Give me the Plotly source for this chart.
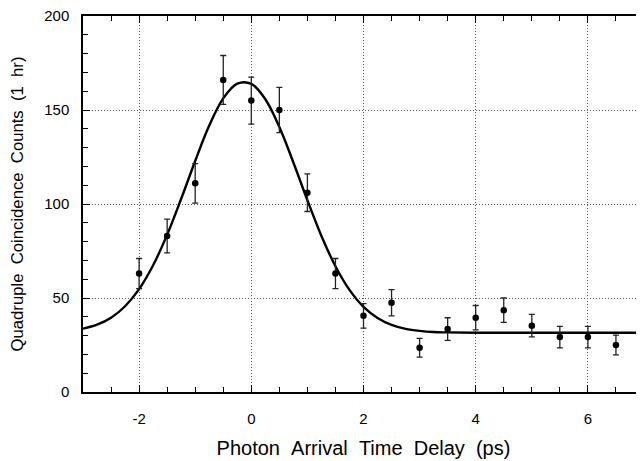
import plotly.graph_objects as go

# measured data
delay_ps = [-2, -1.5, -1, -0.5, 0, 0.5, 1, 1.5, 2, 2.5, 3, 3.5, 4, 4.5, 5, 5.5, 6, 6.5]
counts = [63, 83, 111, 166, 155, 150, 106, 63, 40.5, 47.5, 23.5, 33.5, 39.5, 43.5, 35.3, 29.2, 29.2, 25]
count_err = [8, 9, 10.5, 13, 12.5, 12, 10, 8, 6.5, 7, 5, 6, 6.5, 6.5, 6, 5.7, 5.7, 5.3]

# fitted curve
fit_x = [-3, -2.75, -2.5, -2.25, -2, -1.75, -1.5, -1.25, -1, -0.75, -0.5, -0.25, 0,
         0.25, 0.5, 0.75, 1, 1.25, 1.5, 1.75, 2, 2.25, 2.5, 2.75, 3, 3.25, 3.5, 4, 5, 6, 7]
fit_y = [33.7, 35.8, 39.5, 45.6, 54.7, 67.4, 83.7, 102.8, 122.9, 141.7, 156.2, 164.0, 163.9,
         155.7, 141.0, 122.1, 102.0, 83.0, 66.9, 54.3, 45.3, 39.4, 35.7, 33.6, 32.5, 31.9, 31.7,
         31.5, 31.5, 31.5, 31.5]

x_ticks = [-2, 0, 2, 4, 6]
x_tick_labels = ["-2", "0", "2", "4", "6"]
y_ticks = [0, 50, 100, 150, 200]
y_tick_labels = ["0", "50", "100", "150", "200"]

font_family = "Liberation Sans, Arial, sans-serif"

fig = go.Figure()
fig.add_trace(go.Scatter(
    x=fit_x, y=fit_y, mode="lines", line=dict(color="black", width=2.4, shape="spline"),
    hoverinfo="skip", showlegend=False))
fig.add_trace(go.Scatter(
    x=delay_ps, y=counts, mode="markers",
    marker=dict(color="black", size=6.5),
    error_y=dict(type="data", array=count_err, visible=True, color="#222222",
                 thickness=1.3, width=3),
    showlegend=False))

axis_common = dict(
    showline=True, linecolor="black", linewidth=1.5, mirror="ticks",
    ticks="inside", ticklen=7, tickcolor="black", tickwidth=1,
    showgrid=True, gridcolor="#555555", griddash="1px,2px", gridwidth=1,
    zeroline=False, automargin=False, ticklabeloverflow="allow",
    tickfont=dict(family=font_family, size=15, color="black"),
)

fig.update_xaxes(
    range=[-3, 7], tickmode="array", tickvals=x_ticks, ticktext=x_tick_labels,
    minor=dict(dtick=0.5, tick0=0, ticks="inside", ticklen=5, tickcolor="black", tickwidth=1,
               showgrid=False),
    title=dict(text="Photon&nbsp;&nbsp;Arrival&nbsp;&nbsp;Time&nbsp;&nbsp;Delay&nbsp;&nbsp;(ps)",
               font=dict(family=font_family, size=20, color="black"), standoff=15),
    ticklabelstandoff=12,
    **axis_common)
fig.update_yaxes(
    range=[0, 200], tickmode="array", tickvals=y_ticks, ticktext=y_tick_labels,
    minor=dict(dtick=10, tick0=0, ticks="inside", ticklen=5, tickcolor="black", tickwidth=1,
               showgrid=False),
    title=dict(text="Quadruple&nbsp;&nbsp;Coincidence&nbsp;&nbsp;Counts&nbsp;&nbsp;(1&nbsp;&nbsp;hr)",
               font=dict(family=font_family, size=16.7, color="black"), standoff=23),
    ticklabelstandoff=9,
    **axis_common)

# page body has an 8px margin; size the figure so the plot area lands where the reference has it
fig.update_layout(
    width=636, height=453,
    margin=dict(l=75, r=0, t=8, b=69),
    paper_bgcolor="white", plot_bgcolor="white",
)

fig.write_html("out.html")
